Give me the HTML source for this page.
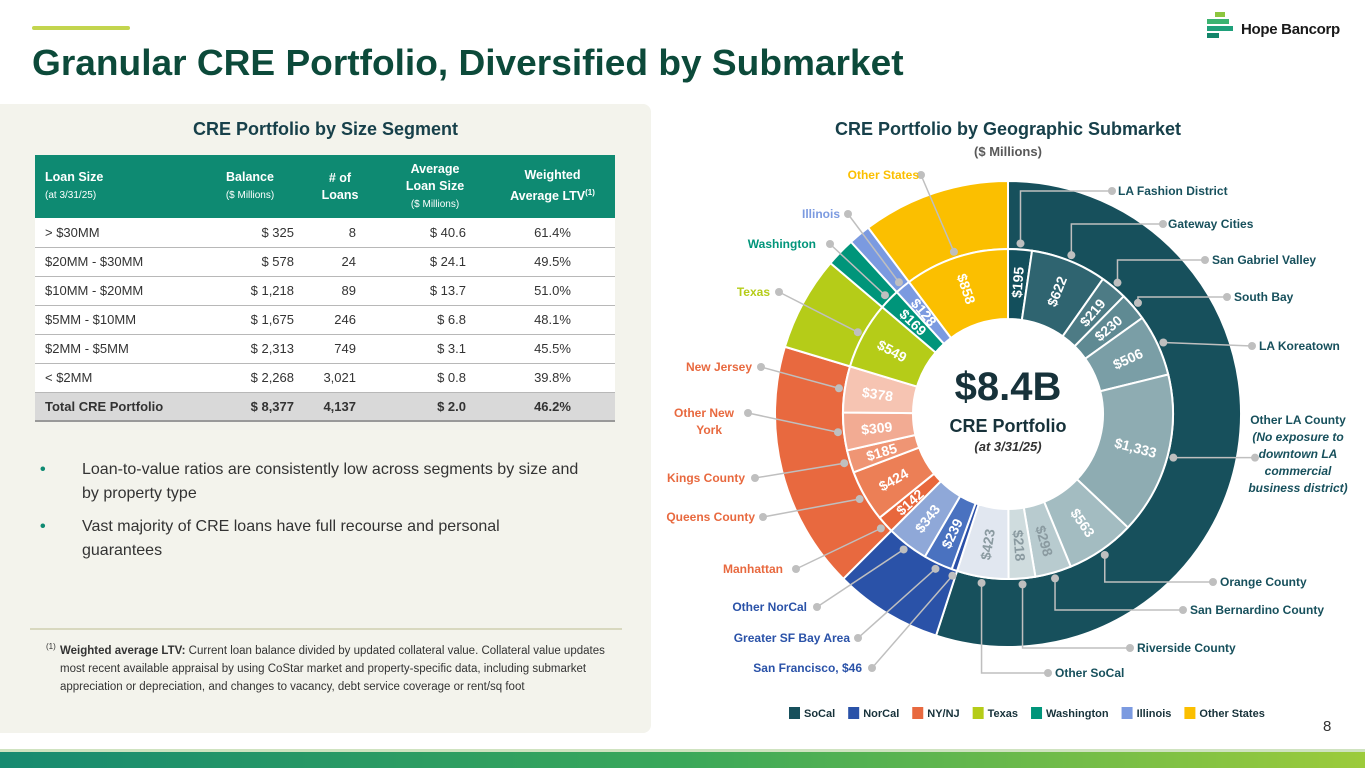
<!DOCTYPE html>
<html><head><meta charset="utf-8"><style>
*{margin:0;padding:0;box-sizing:border-box}
body{width:1365px;height:768px;position:relative;overflow:hidden;background:#fff;font-family:"Liberation Sans",sans-serif;color:#333}
.abs{position:absolute}
table{border-collapse:collapse;position:absolute;left:35px;top:155px;width:580px;font-size:13px}
th{background:#0e8a72;color:#fff;font-weight:bold;height:63px;font-size:12.5px;line-height:17px}
th small{font-size:10px;font-weight:normal}
td{height:29px;border-bottom:1.5px solid #b8b8b8;background:#fff;color:#333}
tr.tot td{background:#d9d9d9;font-weight:bold;border-bottom:2px solid #999}
</style></head><body>
<div class="abs" style="left:32px;top:26px;width:98px;height:4px;background:#c3d54e;border-radius:2px"></div>
<div class="abs" style="left:32px;top:42px;font-size:36px;font-weight:bold;color:#0c4a3a;white-space:nowrap;transform:scaleX(1.03);transform-origin:left">Granular CRE Portfolio, Diversified by Submarket</div>
<svg class="abs" style="left:1207px;top:12px" width="30" height="27" viewBox="0 0 30 27">
<rect x="8" y="0" width="10" height="5" fill="#8dc63f"/><rect x="0" y="7" width="22" height="5" fill="#3cb371"/><rect x="0" y="14" width="26" height="5" fill="#1fa07a"/><rect x="0" y="21" width="12" height="5" fill="#13856a"/></svg>
<div class="abs" style="left:1241px;top:21px;font-size:15px;font-weight:bold;color:#1a1a1a;letter-spacing:-0.3px">Hope Bancorp</div>

<div class="abs" style="left:0;top:104px;width:651px;height:629px;background:#f3f3ec;border-radius:0 8px 8px 0"></div>
<div class="abs" style="left:0;top:119px;width:651px;text-align:center;font-size:18px;font-weight:bold;color:#17404a">CRE Portfolio by Size Segment</div>
<table>
<tr><th style="text-align:left;padding-left:10px;width:165px">Loan Size<br><small>(at 3/31/25)</small></th><th style="width:100px">Balance<br><small>($ Millions)</small></th><th style="width:80px"># of<br>Loans</th><th style="width:110px">Average<br>Loan Size<br><small>($ Millions)</small></th><th>Weighted<br>Average LTV<sup style="font-size:8px">(1)</sup></th></tr>
<tr><td style="padding-left:10px">&gt; $30MM</td><td style="text-align:right;padding-right:6px">$ 325</td><td style="text-align:right;padding-right:24px">8</td><td style="text-align:right;padding-right:24px">$ 40.6</td><td style="text-align:center">61.4%</td></tr>
<tr><td style="padding-left:10px">$20MM - $30MM</td><td style="text-align:right;padding-right:6px">$ 578</td><td style="text-align:right;padding-right:24px">24</td><td style="text-align:right;padding-right:24px">$ 24.1</td><td style="text-align:center">49.5%</td></tr>
<tr><td style="padding-left:10px">$10MM - $20MM</td><td style="text-align:right;padding-right:6px">$ 1,218</td><td style="text-align:right;padding-right:24px">89</td><td style="text-align:right;padding-right:24px">$ 13.7</td><td style="text-align:center">51.0%</td></tr>
<tr><td style="padding-left:10px">$5MM - $10MM</td><td style="text-align:right;padding-right:6px">$ 1,675</td><td style="text-align:right;padding-right:24px">246</td><td style="text-align:right;padding-right:24px">$ 6.8</td><td style="text-align:center">48.1%</td></tr>
<tr><td style="padding-left:10px">$2MM - $5MM</td><td style="text-align:right;padding-right:6px">$ 2,313</td><td style="text-align:right;padding-right:24px">749</td><td style="text-align:right;padding-right:24px">$ 3.1</td><td style="text-align:center">45.5%</td></tr>
<tr><td style="padding-left:10px">&lt; $2MM</td><td style="text-align:right;padding-right:6px">$ 2,268</td><td style="text-align:right;padding-right:24px">3,021</td><td style="text-align:right;padding-right:24px">$ 0.8</td><td style="text-align:center">39.8%</td></tr>
<tr class="tot"><td style="padding-left:10px">Total CRE Portfolio</td><td style="text-align:right;padding-right:6px">$ 8,377</td><td style="text-align:right;padding-right:24px">4,137</td><td style="text-align:right;padding-right:24px">$ 2.0</td><td style="text-align:center">46.2%</td></tr>
</table>
<div class="abs" style="left:40px;top:458px;width:540px;font-size:16px;line-height:24px;padding-left:42px;color:#333"><span style="position:absolute;left:0;color:#0e8a72;font-weight:bold">•</span>Loan-to-value ratios are consistently low across segments by size and by property type</div>
<div class="abs" style="left:40px;top:515px;width:540px;font-size:16px;line-height:24px;padding-left:42px;color:#333"><span style="position:absolute;left:0;color:#0e8a72;font-weight:bold">•</span>Vast majority of CRE loans have full recourse and personal guarantees</div>
<div class="abs" style="left:30px;top:628px;width:592px;height:2px;background:#d8d8bf"></div>
<div class="abs" style="left:60px;top:642px;width:560px;font-size:11.5px;line-height:18px;color:#333"><span style="position:absolute;left:-14px;top:-4px;font-size:8px">(1)</span><b>Weighted average LTV:</b> Current loan balance divided by updated collateral value. Collateral value updates most recent available appraisal by using CoStar market and property-specific data, including submarket appreciation or depreciation, and changes to vacancy, debt service coverage or rent/sq foot</div>

<div class="abs" style="left:758px;top:119px;width:500px;text-align:center;font-size:18px;font-weight:bold;color:#17404a">CRE Portfolio by Geographic Submarket</div>
<div class="abs" style="left:758px;top:144px;width:500px;text-align:center;font-size:13px;font-weight:bold;color:#595959">($ Millions)</div>

<svg id="chart" class="abs" style="left:0;top:0" width="1365" height="768"></svg>

<div class="abs" style="left:1323px;top:718px;font-size:15px;color:#333">8</div>
<div class="abs" style="left:0;top:749px;width:1365px;height:3px;background:#cfe3c0"></div>
<div class="abs" style="left:0;top:752px;width:1365px;height:16px;background:linear-gradient(90deg,#178a70,#3aa85a 50%,#9ccb3b)"></div>

<script>
const subNames=["LA Fashion District","Gateway Cities","San Gabriel Valley","South Bay","LA Koreatown","Other LA County","Orange County","San Bernardino County","Riverside County","Other SoCal","San Francisco","Greater SF Bay Area","Other NorCal","Manhattan","Queens County","Kings County","Other New York","New Jersey","Texas","Washington","Illinois","Other States"];
const subValues=[195,622,219,230,506,1333,563,298,218,423,46,239,343,142,424,185,309,378,549,169,128,858];
const subRegion=[0,0,0,0,0,0,0,0,0,0,1,1,1,2,2,2,2,2,3,4,5,6];
const regionNames=["SoCal","NorCal","NY/NJ","Texas","Washington","Illinois","Other States"];
const centerTotal="$8.4B";

const regionColors=["#17505c","#2a52a8","#e8693f","#b5cc18","#00957a","#7b9ae0","#fbbf00"];
const subColors=["#134f5c","#2f6470","#4d7b85","#5f8a93","#7a9ea6","#8eacb2","#a3bcc1","#b8cbcf","#cfdcde","#e1e7f0","#2b50a8","#4a72c0","#8fa8d8","#e8673c","#ec7f56","#ef9574","#f2ab93","#f6c4b2","#b5cc18","#00957a","#7b9ae0","#fbbf00"];
const darkLabel=[7,8,9];
// label layout: [textX, textY, anchor, dotX, elbow]
const labelLayout=[[1118,191,"start",1112,1],[1168,224,"start",1163,1],[1212,260,"start",1205,1],[1234,297,"start",1227,1],[1259,346,"start",1252,0],[1298,420,"middle",1255,0],[1220,582,"start",1213,1],[1190,610,"start",1183,1],[1137,648,"start",1130,1],[1055,673,"start",1048,1],[862,668,"end",872,0],[850,638,"end",858,0],[807,607,"end",817,0],[783,569,"end",796,0],[755,517,"end",763,0],[745,478,"end",755,0],[734,413,"end",748,0],[752,367,"end",761,0],[770,292,"end",779,0],[816,244,"end",830,0],[840,214,"end",848,0],[919,175,"end",921,0]];

const NS="http://www.w3.org/2000/svg";
const svg=document.getElementById("chart");
const cx=1008,cy=414,r0=95,r1=165,r2=233;
const total=subValues.reduce((a,b)=>a+b,0);
const ang=v=>v/total*2*Math.PI;
const pt=(a,r)=>[cx+r*Math.sin(a),cy-r*Math.cos(a)];
function arc(a0,a1,ri,ro){const[x0,y0]=pt(a0,ro),[x1,y1]=pt(a1,ro),[x2,y2]=pt(a1,ri),[x3,y3]=pt(a0,ri);const l=a1-a0>Math.PI?1:0;
return `M${x0},${y0}A${ro},${ro} 0 ${l} 1 ${x1},${y1}L${x2},${y2}A${ri},${ri} 0 ${l} 0 ${x3},${y3}Z`;}
function mk(t,attrs){const e=document.createElementNS(NS,t);for(const k in attrs)e.setAttribute(k,attrs[k]);svg.appendChild(e);return e;}

const regionTotals=regionNames.map((_,i)=>subValues.reduce((s,v,j)=>s+(subRegion[j]===i?v:0),0));
let acc=0;
regionTotals.forEach((v,i)=>{const a0=ang(acc),a1=ang(acc+v);acc+=v;
const p=mk("path",{d:arc(a0,a1,r1,r2),fill:regionColors[i],stroke:"#fff","stroke-width":2});

});

acc=0;
const mids=[];
subValues.forEach((v,i)=>{const a0=ang(acc),a1=ang(acc+v);acc+=v;const am=(a0+a1)/2;mids.push(am);
const p=mk("path",{d:arc(a0,a1,r0,r1),fill:subColors[i],stroke:"#fff","stroke-width":2});


if(v>=100){const[tx,ty]=pt(am,132);const deg=am*180/Math.PI;const rot=deg<180?deg-90:deg-270;
const t=mk("text",{x:tx,y:ty,"text-anchor":"middle","dominant-baseline":"central","font-size":14,"font-weight":"bold",fill:darkLabel.includes(i)?"#8a9aa0":"#fff",transform:`rotate(${rot} ${tx} ${ty})`});
t.textContent="$"+v.toLocaleString("en-US");

}});

subNames.forEach((n,i)=>{const L=labelLayout[i];const[sx,sy]=pt(mids[i],171);const ty=L[1]+(i===5?47:0);
let d;if(L[4])d=`M${sx},${sy}L${sx},${ty}L${L[3]},${ty}`;else d=`M${sx},${sy}L${L[3]},${i===5?sy:ty}`;
const ln=mk("path",{d:d,fill:"none",stroke:"#bfbfbf","stroke-width":1.5});


mk("circle",{cx:sx,cy:sy,r:4,fill:"#bfbfbf"});
mk("circle",{cx:L[3],cy:i===5?sy:ty,r:4,fill:"#bfbfbf"});
const col=regionColors[subRegion[i]];
let lines=[n];
if(i===10)lines=["San Francisco, $"+subValues[i]];
if(i===16)lines=["Other New","York"];
if(i===5)lines=["Other LA County","(No exposure to","downtown LA","commercial","business district)"];
const tx=i===5?1298:L[0];
const t=mk("text",{x:tx,y:L[1],"text-anchor":L[2],"font-size":12,"font-weight":"bold",fill:col});
lines.forEach((s,k)=>{const ts=document.createElementNS(NS,"tspan");ts.setAttribute("x",tx);ts.setAttribute("dy",k?17:4);if(i===5&&k)ts.setAttribute("font-style","italic");if(i===16)ts.setAttribute("x",L[0]-(k?12:0));ts.textContent=s;t.appendChild(ts);});

});

const c1=mk("text",{x:cx,y:400,"text-anchor":"middle","font-size":40,"font-weight":"bold",fill:"#17323a"});c1.textContent=centerTotal;


const c2=mk("text",{x:cx,y:432,"text-anchor":"middle","font-size":18,"font-weight":"bold",fill:"#17323a"});c2.textContent="CRE Portfolio";


const c3=mk("text",{x:cx,y:451,"text-anchor":"middle","font-size":13,"font-style":"italic","font-weight":"bold",fill:"#333"});c3.textContent="(at 3/31/25)";



let lx=789;
regionNames.forEach((n,i)=>{const r=mk("rect",{x:lx,y:707,width:11,height:12,fill:regionColors[i]});


const t=mk("text",{x:lx+15,y:717,"font-size":11,"font-weight":"bold",fill:"#17323a"});t.textContent=n;


lx+=15+t.getComputedTextLength()+13;});
</script>
</body></html>
